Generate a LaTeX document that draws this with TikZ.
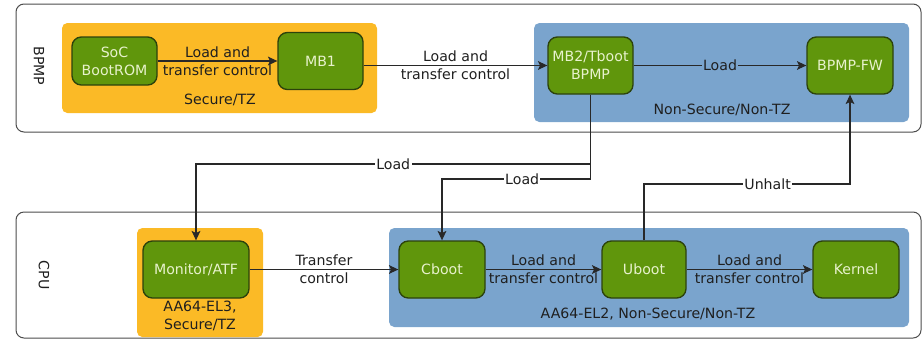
\documentclass[tikz,border=0pt]{standalone}
\usepackage{fontspec}
\setmainfont{DejaVu Sans}
\usetikzlibrary{arrows.meta}

\definecolor{secyel}{RGB}{251,186,38}
\definecolor{nsblue}{RGB}{122,164,205}
\definecolor{stgreen}{RGB}{96,150,12}
\definecolor{stedge}{RGB}{44,66,12}
\definecolor{sttext}{RGB}{232,242,205}
\definecolor{lncol}{RGB}{40,40,40}

\newcommand{\fs}{\fontsize{10.6}{13.5}\selectfont}

\tikzset{every picture/.style={line width=0.75pt}}
\tikzset{
	stage/.style={draw=stedge, fill=stgreen, text=sttext, rounded corners=7pt, line width=1pt, align=center, inner sep=0pt, minimum height=42.75pt, font=\fs},
	conn/.style={draw=lncol, line width=0.8pt, -{Stealth[length=7pt,width=6.5pt,inset=1.5pt]}},
	lbl/.style={align=center, text=black!88, font=\fs, inner sep=1pt},
}

\begin{document}
\begin{tikzpicture}[x=0.75pt,y=0.75pt,yscale=-1,xscale=1]
	\useasboundingbox (0,0) rectangle (923,340);

	%Shape: Rounded Rect [BPMP]
	\draw [draw=black!70, rounded corners=6pt] (16,4) rectangle (921,132);
	%Shape: Rounded Rect [CPU]
	\draw [draw=black!70, rounded corners=6pt] (16,212) rectangle (921,338);

	%Shape: Rect [secure, BPMP]
	\fill [secyel, rounded corners=4pt] (62,23) rectangle (377,113);
	%Shape: Rect [non-secure, BPMP]
	\fill [nsblue, rounded corners=4pt] (534,23) rectangle (909,122);
	%Shape: Rect [secure, CPU]
	\fill [secyel, rounded corners=4pt] (137,228) rectangle (263,337);
	%Shape: Rect [non-secure, CPU]
	\fill [nsblue, rounded corners=4pt] (389,228) rectangle (909,327);

	% Text Node
	\node [lbl, rotate=-90] (bpmplbl) at (39,66) {BPMP};
	% Text Node
	\node [lbl, rotate=-90] (cpulbl) at (44,275) {CPU};
	% Text Node
	\node [lbl] (seclbl) at (220,100) {Secure/TZ};
	% Text Node
	\node [lbl] (nslbl) at (722,110) {Non-Secure/Non-TZ};
	% Text Node
	\node [lbl] (el3lbl) at (200,316) {AA64-EL3,\\Secure/TZ};
	% Text Node
	\node [lbl] (el2lbl) at (648,314) {AA64-EL2, Non-Secure/Non-TZ};

	%Boot stages
	\node [stage, minimum width=63.75pt, minimum height=36pt] (rom) at (114.5,61) {SoC\\BootROM};
	\node [stage, minimum width=63.75pt] (mb1) at (320.5,61) {MB1};
	\node [stage, minimum width=63.75pt] (mb2) at (590.5,65.5) {MB2/Tboot\\BPMP};
	\node [stage, minimum width=64.5pt] (fw) at (850,65.5) {BPMP-FW};
	\node [stage, minimum width=79.5pt] (mon) at (196,269.5) {Monitor/ATF};
	\node [stage, minimum width=64.5pt] (cb) at (442,269.5) {Cboot};
	\node [stage, minimum width=63pt] (ub) at (644,269.5) {Uboot};
	\node [stage, minimum width=64.5pt] (kn) at (856,269.5) {Kernel};

	%Straight Lines
	\draw [conn] (rom) -- node [lbl] {Load and\\transfer control} (mb1);
	\draw [conn] (mb1.east |- mb2) -- node [lbl] {Load and\\transfer control} (mb2);
	\draw [conn] (mb2) -- node [lbl, fill=nsblue] {Load} (fw);
	\draw [conn] (mon) -- node [lbl] {Transfer\\control} (cb);
	\draw [conn] (cb) -- node [lbl] {Load and\\transfer control} (ub);
	\draw [conn] (ub) -- node [lbl] {Load and\\transfer control} (kn);

	%Elbow Lines
	\draw [conn] (mb2.south) |- node [lbl, fill=white, pos=0.75] {Load} (mon.north |- 0,164) -- (mon.north);
	\draw [conn] (mb2.south) |- node [lbl, fill=white, pos=0.73] {Load} (cb.north |- 0,179) -- (cb.north);
	\draw [conn] (ub.north) |- node [lbl, fill=white, pos=0.8] {Unhalt} (fw.south |- 0,184) -- (fw.south);

\end{tikzpicture}
\end{document}
